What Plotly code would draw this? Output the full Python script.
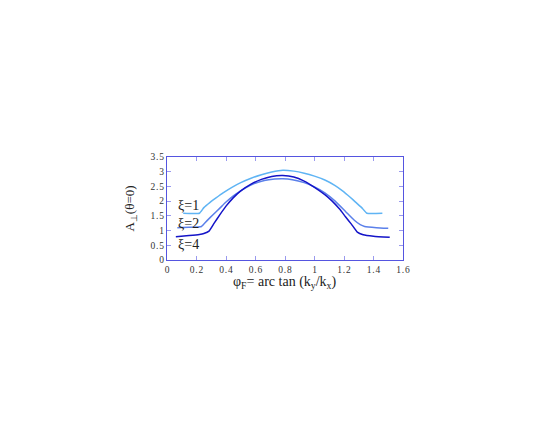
import plotly.graph_objects as go

# Data
x_xi1 = [0.11, 0.22, 0.25, 0.29, 0.33, 0.38, 0.44, 0.50, 0.57, 0.64, 0.71, 0.785, 0.86, 0.93, 1.00, 1.07, 1.14, 1.19, 1.24, 1.28, 1.32, 1.355, 1.46]
y_xi1 = [1.59, 1.59, 1.78, 1.95, 2.10, 2.28, 2.47, 2.63, 2.78, 2.90, 2.99, 3.05, 3.02, 2.95, 2.85, 2.72, 2.53, 2.35, 2.14, 1.96, 1.78, 1.59, 1.59]

x_xi2 = [0.07, 0.15, 0.234, 0.27, 0.31, 0.36, 0.40, 0.45, 0.50, 0.58, 0.66, 0.73, 0.785, 0.85, 0.93, 1.00, 1.07, 1.14, 1.21, 1.27, 1.31, 1.34, 1.42, 1.50]
y_xi2 = [1.10, 1.11, 1.14, 1.33, 1.53, 1.77, 1.97, 2.18, 2.35, 2.57, 2.70, 2.75, 2.76, 2.73, 2.63, 2.48, 2.28, 2.00, 1.65, 1.35, 1.20, 1.14, 1.10, 1.08]

x_xi4 = [0.06, 0.15, 0.22, 0.25, 0.285, 0.32, 0.36, 0.40, 0.45, 0.50, 0.57, 0.64, 0.71, 0.785, 0.86, 0.93, 1.00, 1.07, 1.12, 1.17, 1.21, 1.25, 1.29, 1.33, 1.40, 1.51]
y_xi4 = [0.79, 0.83, 0.87, 0.90, 0.98, 1.25, 1.55, 1.83, 2.12, 2.35, 2.58, 2.74, 2.84, 2.87, 2.82, 2.68, 2.47, 2.22, 2.00, 1.73, 1.47, 1.22, 0.95, 0.86, 0.81, 0.77]

labels = ["ξ=1", "ξ=2", "ξ=4"]
label_y = [1.84, 1.23, 0.53]
colors = ["#5fb4f4", "#5b80ea", "#1414c8"]

x_tickvals = [0, 0.2, 0.4, 0.6, 0.8, 1.0, 1.2, 1.4, 1.6]
x_ticklabels = ["0", "0.2", "0.4", "0.6", "0.8", "1", "1.2", "1.4", "1.6"]
y_tickvals = [0, 0.5, 1.0, 1.5, 2.0, 2.5, 3.0, 3.5]
y_ticklabels = ["0", "0.5", "1", "1.5", "2", "2.5", "3", "3.5"]

x_title = "φ<sub>F</sub>= arc tan (k<sub>y</sub>/k<sub>x</sub>)"
y_title = "A<sub>⊥</sub>(θ=0)"

FONT = "Liberation Serif, Times New Roman, serif"
HS = "\u200a"


def spaced(s):
    return HS.join(list(s))


fig = go.Figure()
for xs, ys, c, name in zip([x_xi1, x_xi2, x_xi4], [y_xi1, y_xi2, y_xi4], colors, labels):
    fig.add_trace(go.Scatter(x=xs, y=ys, mode="lines", name=name,
                             line=dict(color=c, width=1.5, shape="spline", smoothing=0.4)))

for t, ly in zip(labels, label_y):
    fig.add_annotation(x=0.06, y=ly, text=t, showarrow=False, xanchor="left", yanchor="middle",
                       font=dict(family=FONT, size=14, color="#222"))

# x-axis title placed just under the tick labels
fig.add_annotation(x=0.5, y=0, xref="paper", yref="paper", yshift=-12,
                   text=x_title, showarrow=False, xanchor="center", yanchor="top",
                   font=dict(family=FONT, size=14, color="#222"))

axis_common = dict(
    showline=True, linecolor="#5555e0", linewidth=1.2, mirror="allticks",
    ticks="inside", ticklen=4, tickcolor="#9a9aee", tickwidth=1,
    showgrid=False, zeroline=False,
    tickfont=dict(family=FONT, size=9.5, color="#333"),
)

fig.update_xaxes(range=[0, 1.6], tickmode="array", tickvals=x_tickvals,
                 ticktext=[spaced(s) for s in x_ticklabels], ticklabelstandoff=0,
                 **axis_common)
fig.update_yaxes(range=[0, 3.5], tickmode="array", tickvals=y_tickvals,
                 ticktext=[spaced(s) for s in y_ticklabels],
                 title=dict(text=y_title,
                            font=dict(family=FONT, size=13, color="#222"), standoff=12),
                 **axis_common)

fig.update_layout(width=545, height=436, showlegend=False,
                  margin=dict(l=159, r=150, t=149, b=184),
                  plot_bgcolor="white", paper_bgcolor="white")

fig.write_html("out.html")
